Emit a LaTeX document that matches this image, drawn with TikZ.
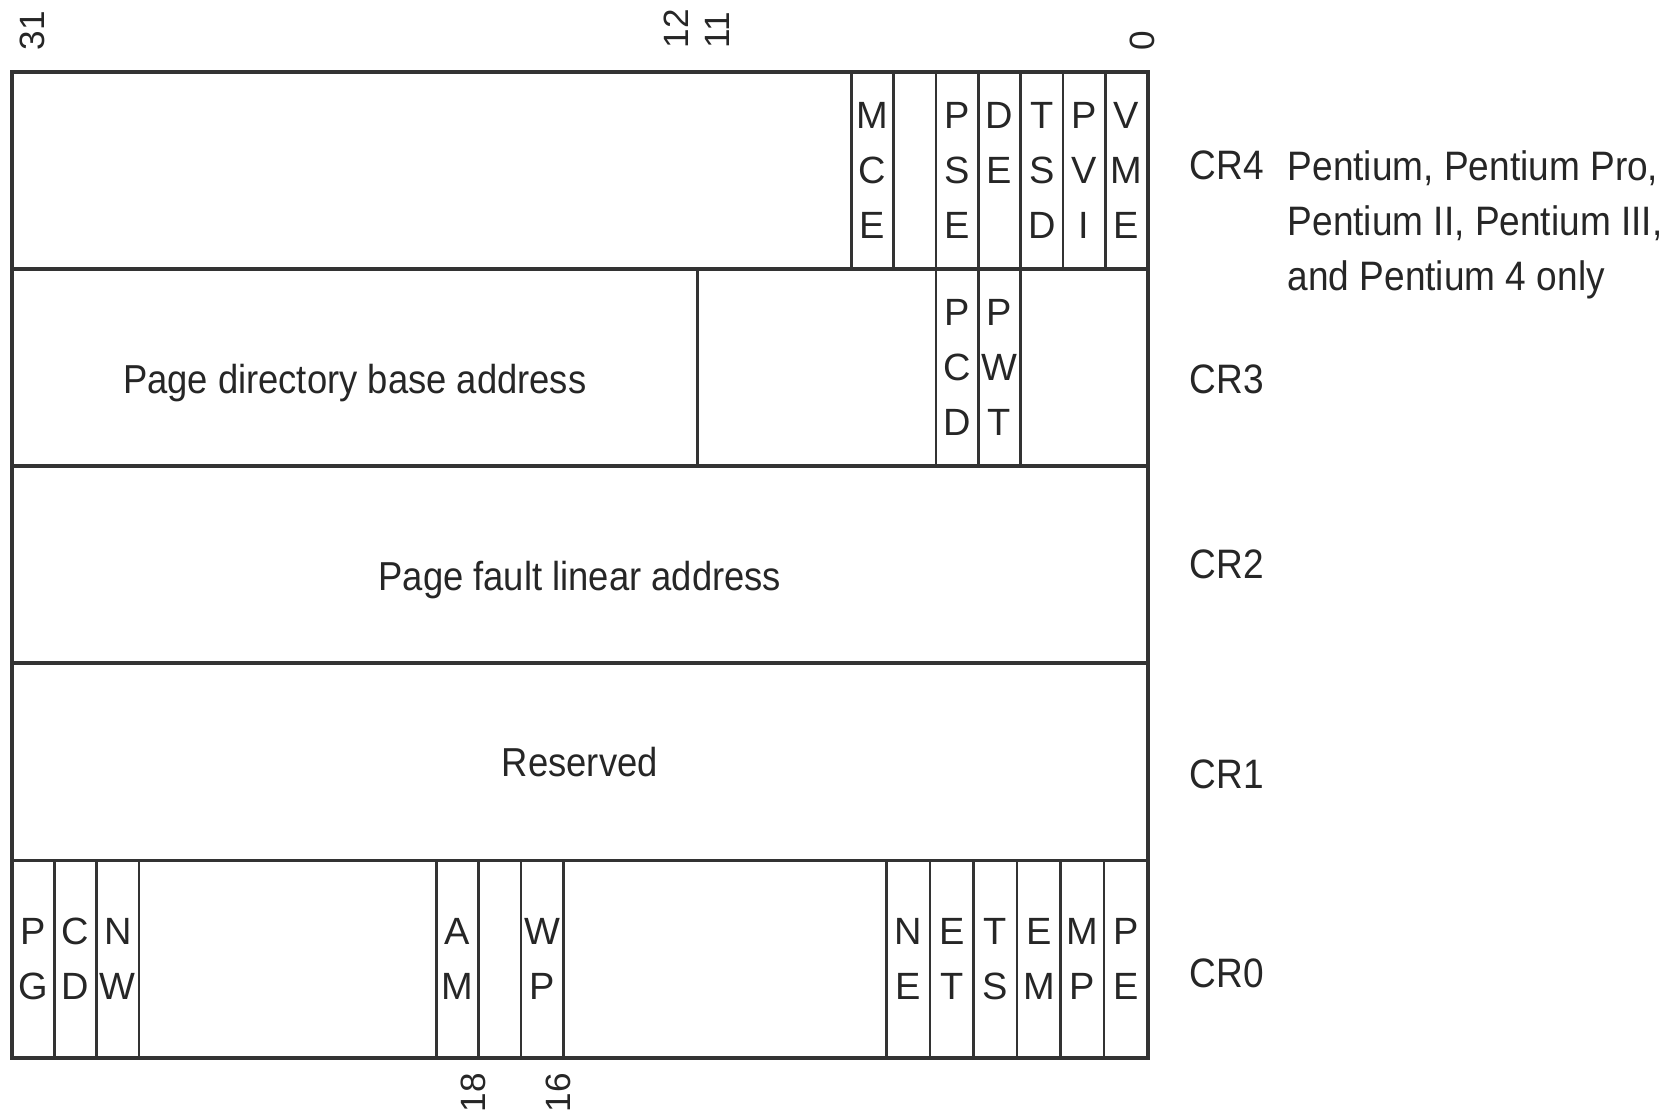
\documentclass[tikz,border=0pt]{standalone}
\usepackage{fontspec}
\setmainfont[FakeStretch=0.9]{Liberation Sans}
\newfontfamily\bitfont{Liberation Sans}
\usetikzlibrary{positioning}
\definecolor{ink}{HTML}{333333}

\begin{document}
\begin{tikzpicture}[
        % one unit = one pixel of the original, y grows downwards
        x=0.01cm, y=-0.01cm,
        node distance=0pt,
        every node/.style={inner sep=0pt, outer sep=0pt, text=black!85},
        regrow/.style={rectangle, draw=ink, line width=1.1pt, minimum width=11.35cm, minimum height=1.97cm},
        field/.style={rectangle, draw=ink, line width=0.75pt, minimum height=1.97cm, align=center, font=\bitfont\fontsize{10.8}{15.6}\selectfont},
        bitbox/.style={field, minimum width=#1},
        bitbox/.default=0.423cm,
        rowtext/.style={font=\fontsize{11.5}{14}\selectfont},
        crname/.style={font=\fontsize{11.7}{15}\selectfont},
        bitno/.style={rotate=90, font=\bitfont\fontsize{10}{12}\selectfont},
        note/.style={align=left, font=\fontsize{11.7}{15.6}\selectfont}
    ]
    \useasboundingbox (0,0) rectangle (1677,1117);

    % Registers
    \node (cr4) [regrow, anchor=north west] at (12,72) {};
    \node (cr3) [regrow, below=of cr4] {};
    \node (cr2) [regrow, below=of cr3] {};
    \node (cr1) [regrow, below=of cr2, rowtext] {Reserved};
    \node (cr0) [regrow, below=of cr1] {};
    \node (pfla) [rowtext] at ([yshift=-0.15cm]cr2.center) {Page fault linear address};

    % CR4 flags
    \node (vme) [bitbox, anchor=north east] at (cr4.north east) {V\\M\\E};
    \node (pvi) [bitbox, left=of vme] {P\\V\\I};
    \node (tsd) [bitbox, left=of pvi] {T\\S\\D};
    \node (de) [bitbox, left=of tsd] {D\\E\\\mbox{}};
    \node (pse) [bitbox, left=of de] {P\\S\\E};
    \node (cr4b5) [bitbox, left=of pse] {};
    \node (mce) [bitbox, left=of cr4b5] {M\\C\\E};

    % CR3 fields
    \node (pdb) [field, anchor=north west, minimum width=6.85cm] at (cr3.north west) {};
    \node (pdba) [rowtext] at ([yshift=-0.15cm]pdb.center) {Page directory base address};
    \node (pcd) [bitbox, anchor=north] at (pse.south) {P\\C\\D};
    \node (pwt) [bitbox, right=of pcd] {P\\W\\T};

    % CR0 flags
    \node (pe) [bitbox=0.435cm, anchor=north east] at (cr0.north east) {P\\E};
    \node (mp) [bitbox=0.435cm, left=of pe] {M\\P};
    \node (em) [bitbox=0.435cm, left=of mp] {E\\M};
    \node (ts) [bitbox=0.435cm, left=of em] {T\\S};
    \node (et) [bitbox=0.435cm, left=of ts] {E\\T};
    \node (ne) [bitbox=0.435cm, left=of et] {N\\E};
    \node (wp) [bitbox, anchor=north west] at (521,860) {W\\P};
    \node (cr0b17) [bitbox, left=of wp] {};
    \node (am) [bitbox, left=of cr0b17] {A\\M};
    \node (pg) [bitbox, anchor=north west] at (cr0.north west) {P\\G};
    \node (cd) [bitbox, right=of pg] {C\\D};
    \node (nw) [bitbox, right=of cd] {N\\W};

    % Register names
    \node (cr4name) [crname, right=0.42cm of cr4, yshift=0.05cm] {CR4};
    \node (cr3name) [crname, right=0.42cm of cr3, yshift=-0.12cm] {CR3};
    \node (cr2name) [crname, right=0.42cm of cr2] {CR2};
    \node (cr1name) [crname, right=0.42cm of cr1, yshift=-0.12cm] {CR1};
    \node (cr0name) [crname, right=0.42cm of cr0, yshift=-0.14cm] {CR0};
    \node (cpus) [note, anchor=north west] at ([xshift=0.24cm]cr4name.north east) {Pentium, Pentium Pro,\\Pentium II, Pentium III,\\and Pentium 4 only};

    % Bit numbers
    \node (b31) [bitno, anchor=west] at (32,50) {31};
    \node (b12) [bitno, anchor=west] at (676,48) {12};
    \node (b11) [bitno, anchor=west] at (717,48) {11};
    \node (b0) [bitno, anchor=west] at (1142,50) {0};
    \node (b18) [bitno, anchor=east] at (473,1073) {18};
    \node (b16) [bitno, anchor=east] at (558,1073) {16};

\end{tikzpicture}
\end{document}
